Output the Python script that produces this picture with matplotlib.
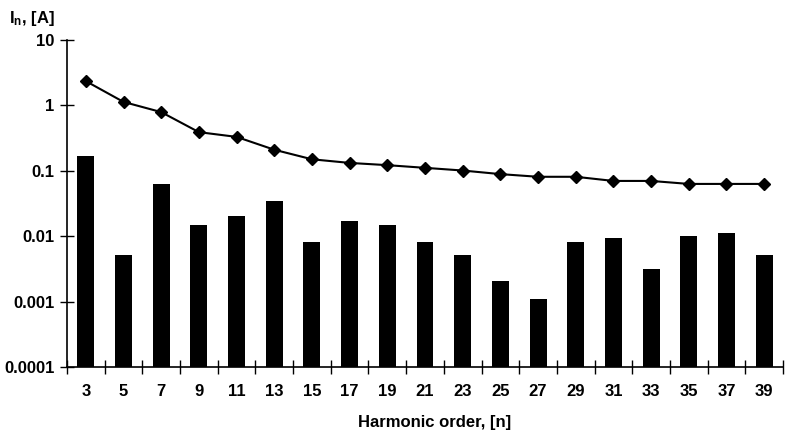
import matplotlib.pyplot as plt
import numpy as np

plt.rcParams['font.family'] = ['Liberation Sans', 'DejaVu Sans']
plt.rcParams['font.weight'] = 'bold'
plt.rcParams['mathtext.fontset'] = 'custom'
plt.rcParams['mathtext.rm'] = 'Liberation Sans:bold'
plt.rcParams['mathtext.bf'] = 'Liberation Sans:bold'

# harmonic orders and measured currents
orders = [3, 5, 7, 9, 11, 13, 15, 17, 19, 21, 23, 25, 27, 29, 31, 33, 35, 37, 39]
bar_vals = [0.17, 0.005, 0.063, 0.0145, 0.02, 0.035, 0.008, 0.017, 0.0145, 0.008,
            0.005, 0.002, 0.001, 0.008, 0.0092, 0.003, 0.01, 0.011, 0.005]
line_vals = [2.35, 1.13, 0.79, 0.39, 0.33, 0.21, 0.15, 0.132, 0.122, 0.111,
             0.101, 0.089, 0.081, 0.081, 0.07, 0.07, 0.063, 0.063, 0.063]
y_ticks = [0.0001, 0.001, 0.01, 0.1, 1, 10]
y_labels = ['0.0001', '0.001', '0.01', '0.1', '1', '10']

fs = 12

fig = plt.figure(figsize=(7.89, 4.38), dpi=100)
ax = fig.add_axes([67 / 789, 1 - 367 / 438, 716 / 789, 327 / 438])

x = np.arange(len(orders))
ax.bar(x, bar_vals, width=0.45, color='black', bottom=0.0001)
ax.plot(x, line_vals, color='black', lw=1.5, marker='D', ms=6)

ax.set_yscale('log')
ax.set_ylim(0.0001, 10)
ax.set_xlim(-0.5, len(orders) - 0.5)
ax.set_yticks(y_ticks)
ax.set_yticklabels(y_labels)
ax.yaxis.set_minor_locator(plt.NullLocator())

# boundaries get the tick marks, centres get the labels
ax.set_xticks(np.arange(len(orders) + 1) - 0.5)
ax.set_xticklabels([])
ax.set_xticks(x, minor=True)
ax.set_xticklabels([str(o) for o in orders], minor=True)
ax.tick_params(axis='x', which='major', direction='inout', length=10, width=1)
ax.tick_params(axis='x', which='minor', length=0, pad=12.5, labelsize=fs)
ax.tick_params(axis='y', direction='inout', length=10, width=1, labelsize=fs, pad=4)

for s in ['top', 'right']:
    ax.spines[s].set_visible(False)
ax.spines['left'].set_linewidth(1.2)
ax.spines['bottom'].set_linewidth(1.2)

fig.text(9 / 789, 1 - 19 / 438, r'$\mathrm{I_n}$, [A]', fontsize=fs, fontweight='bold',
         va='center', ha='left')
fig.text(435 / 789, 1 - 423 / 438, 'Harmonic order, [n]', fontsize=fs, fontweight='bold',
         va='center', ha='center')

fig.savefig('out.png', dpi=100)
